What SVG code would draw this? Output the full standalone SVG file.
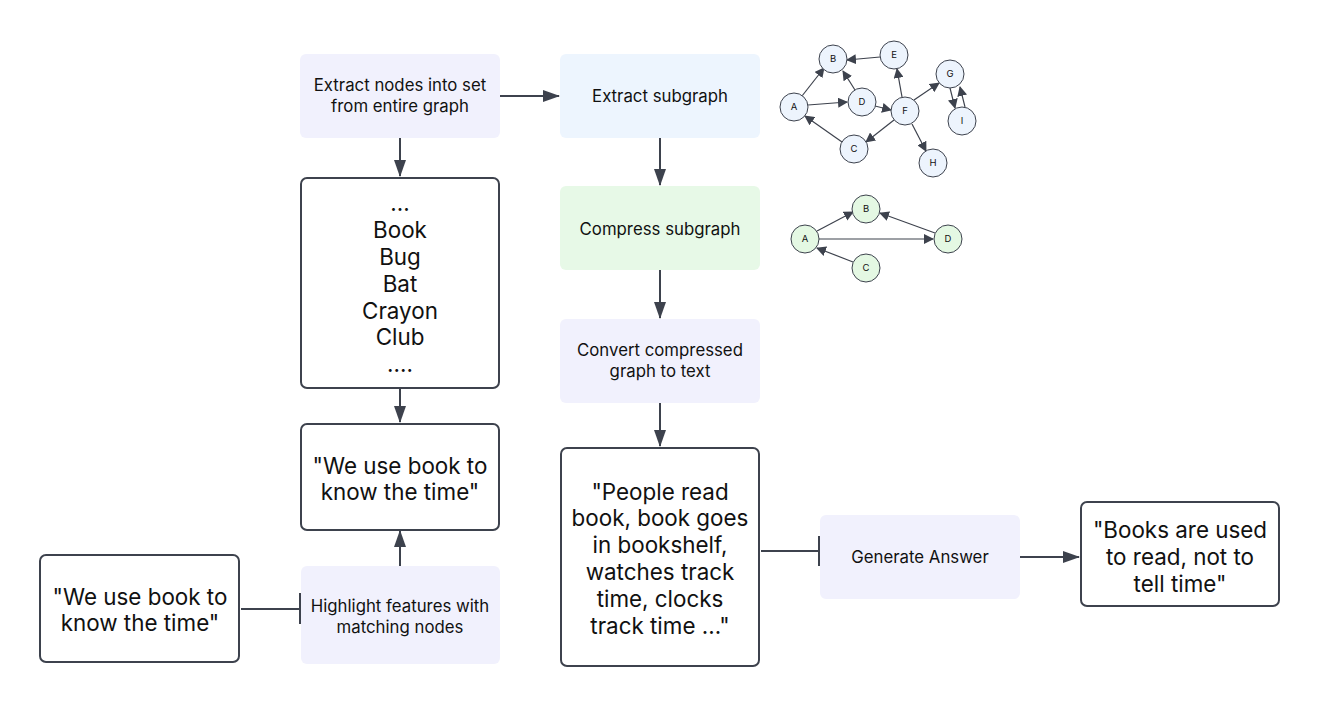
<svg xmlns="http://www.w3.org/2000/svg" width="1320" height="707" viewBox="0 0 1320 707">
<defs>
<style>
.t{font-family:Inter,"Liberation Sans",sans-serif;fill:#111;text-anchor:middle}
.s{font-size:16.8px}
.b{font-size:22.4px}
.g{font-size:9.5px}
.lav{fill:#f1f1fd}
.blu{fill:#edf5fe}
.grn{fill:#e7f9e7}
.wb{fill:#fff;stroke:#3d424d;stroke-width:2}
.c{stroke:#3d424d;stroke-width:2;fill:none}
.e{stroke:#3d424d;stroke-width:1.2;fill:none}
.n1{fill:#edf4fd;stroke:#3d424d;stroke-width:1}
.n2{fill:#e4f8e3;stroke:#3d424d;stroke-width:1}
</style>
<marker id="ar" markerWidth="10" markerHeight="10" refX="9" refY="5" orient="auto" markerUnits="userSpaceOnUse" viewBox="0 0 10 10"><path d="M0,0 L10,5 L0,10 z" fill="#3d424d"/></marker>
<marker id="arb" markerWidth="17" markerHeight="12" refX="16" refY="6" orient="auto" markerUnits="userSpaceOnUse" viewBox="0 0 17 12"><path d="M0,0 L17,6 L0,12 z" fill="#3d424d"/></marker>
</defs>

<g id="connectors">
<line class="c" x1="500" y1="96" x2="559" y2="96" marker-end="url(#arb)"/>
<line class="c" x1="400" y1="138" x2="400" y2="176" marker-end="url(#arb)"/>
<line class="c" x1="400" y1="388" x2="400" y2="422" marker-end="url(#arb)"/>
<line class="c" x1="400" y1="566" x2="400" y2="531" marker-end="url(#arb)"/>
<line class="c" x1="660" y1="138" x2="660" y2="185" marker-end="url(#arb)"/>
<line class="c" x1="660" y1="270" x2="660" y2="318" marker-end="url(#arb)"/>
<line class="c" x1="660" y1="403" x2="660" y2="446" marker-end="url(#arb)"/>
<line class="c" x1="1020" y1="557" x2="1079" y2="557" marker-end="url(#arb)"/>
<line class="c" x1="241" y1="609" x2="300" y2="609"/>
<line class="c" x1="300" y1="593" x2="300" y2="624"/>
<line class="c" x1="761" y1="551" x2="819" y2="551"/>
<line class="c" x1="819" y1="536" x2="819" y2="566"/>
</g>

<g id="extract-nodes">
<rect class="lav" x="300" y="54" width="200" height="84" rx="6"/>
<text class="t s" x="400" y="91">Extract nodes into set</text>
<text class="t s" x="400" y="112">from entire graph</text>
</g>
<g id="extract-subgraph">
<rect class="blu" x="560" y="54" width="200" height="84" rx="6"/>
<text class="t s" x="660" y="102">Extract subgraph</text>
</g>
<g id="compress-subgraph">
<rect class="grn" x="560" y="186" width="200" height="84" rx="6"/>
<text class="t s" x="660" y="235">Compress subgraph</text>
</g>
<g id="convert">
<rect class="lav" x="560" y="319" width="200" height="84" rx="6"/>
<text class="t s" x="660" y="356">Convert compressed</text>
<text class="t s" x="660" y="377">graph to text</text>
</g>
<g id="node-list">
<rect class="wb" x="301" y="178" width="198" height="210" rx="6"/>
<text class="t b" x="400" y="211">...</text>
<text class="t b" x="400" y="238">Book</text>
<text class="t b" x="400" y="265">Bug</text>
<text class="t b" x="400" y="292">Bat</text>
<text class="t b" x="400" y="319">Crayon</text>
<text class="t b" x="400" y="345">Club</text>
<text class="t b" x="400" y="372">....</text>
</g>
<g id="quote-mid">
<rect class="wb" x="301" y="424" width="198" height="106" rx="6"/>
<text class="t b" x="400" y="474">"We use book to</text>
<text class="t b" x="400" y="500">know the time"</text>
</g>
<g id="highlight">
<rect class="lav" x="301" y="566" width="199" height="98" rx="6"/>
<text class="t s" x="400" y="612">Highlight features with</text>
<text class="t s" x="400" y="633">matching nodes</text>
</g>
<g id="quote-left">
<rect class="wb" x="40" y="555" width="199" height="107" rx="6"/>
<text class="t b" x="140" y="605">"We use book to</text>
<text class="t b" x="140" y="631">know the time"</text>
</g>
<g id="people-text">
<rect class="wb" x="561" y="448" width="198" height="218" rx="6"/>
<text class="t b" x="660" y="500">"People read</text>
<text class="t b" x="660" y="526">book, book goes</text>
<text class="t b" x="660" y="553">in bookshelf,</text>
<text class="t b" x="660" y="580">watches track</text>
<text class="t b" x="660" y="607">time, clocks</text>
<text class="t b" x="660" y="634">track time ..."</text>
</g>
<g id="generate">
<rect class="lav" x="820" y="515" width="200" height="84" rx="6"/>
<text class="t s" x="920" y="563">Generate Answer</text>
</g>
<g id="answer">
<rect class="wb" x="1081" y="502" width="198" height="104" rx="6"/>
<text class="t b" x="1180" y="538">"Books are used</text>
<text class="t b" x="1180" y="565">to read, not to</text>
<text class="t b" x="1180" y="592">tell time"</text>
</g>

<g id="graph-full">
<g class="edges">
<line class="e" x1="802" y1="96" x2="824" y2="68" marker-end="url(#ar)"/>
<line class="e" x1="880" y1="57" x2="847" y2="60" marker-end="url(#ar)"/>
<line class="e" x1="855" y1="90" x2="843" y2="71" marker-end="url(#ar)"/>
<line class="e" x1="808" y1="105" x2="847" y2="102" marker-end="url(#ar)"/>
<line class="e" x1="875" y1="106" x2="891" y2="110" marker-end="url(#ar)"/>
<line class="e" x1="902" y1="97" x2="897" y2="69" marker-end="url(#ar)"/>
<line class="e" x1="914" y1="100" x2="939" y2="83" marker-end="url(#ar)"/>
<line class="e" x1="950" y1="88" x2="955" y2="108" marker-end="url(#ar)"/>
<line class="e" x1="965" y1="107" x2="960" y2="87" marker-end="url(#ar)"/>
<line class="e" x1="894" y1="120" x2="866" y2="142" marker-end="url(#ar)"/>
<line class="e" x1="842" y1="142" x2="805" y2="116" marker-end="url(#ar)"/>
<line class="e" x1="912" y1="124" x2="926" y2="151" marker-end="url(#ar)"/>
</g>
<g id="g1-A"><circle class="n1" cx="794" cy="107" r="14"/><text class="t g" x="794" y="110">A</text></g>
<g id="g1-B"><circle class="n1" cx="833" cy="59" r="14"/><text class="t g" x="833" y="62">B</text></g>
<g id="g1-C"><circle class="n1" cx="854" cy="149" r="14"/><text class="t g" x="854" y="152">C</text></g>
<g id="g1-D"><circle class="n1" cx="862" cy="102" r="14"/><text class="t g" x="862" y="105">D</text></g>
<g id="g1-E"><circle class="n1" cx="894" cy="55" r="14"/><text class="t g" x="894" y="58">E</text></g>
<g id="g1-F"><circle class="n1" cx="905" cy="111" r="14"/><text class="t g" x="905" y="114">F</text></g>
<g id="g1-G"><circle class="n1" cx="950" cy="74" r="14"/><text class="t g" x="950" y="77">G</text></g>
<g id="g1-H"><circle class="n1" cx="933" cy="163" r="14"/><text class="t g" x="933" y="166">H</text></g>
<g id="g1-I"><circle class="n1" cx="962" cy="121" r="14"/><text class="t g" x="962" y="124">I</text></g>
</g>

<g id="graph-compressed">
<g class="edges">
<line class="e" x1="817" y1="231" x2="853" y2="212" marker-end="url(#ar)"/>
<line class="e" x1="935" y1="233" x2="880" y2="213" marker-end="url(#ar)"/>
<line class="e" x1="819" y1="239" x2="933" y2="239" marker-end="url(#ar)"/>
<line class="e" x1="853" y1="262" x2="817" y2="248" marker-end="url(#ar)"/>
</g>
<g id="g2-A"><circle class="n2" cx="805" cy="239" r="14"/><text class="t g" x="805" y="242">A</text></g>
<g id="g2-B"><circle class="n2" cx="866" cy="209" r="14"/><text class="t g" x="866" y="212">B</text></g>
<g id="g2-C"><circle class="n2" cx="866" cy="268" r="14"/><text class="t g" x="866" y="271">C</text></g>
<g id="g2-D"><circle class="n2" cx="948" cy="239" r="14"/><text class="t g" x="948" y="242">D</text></g>
</g>
</svg>
